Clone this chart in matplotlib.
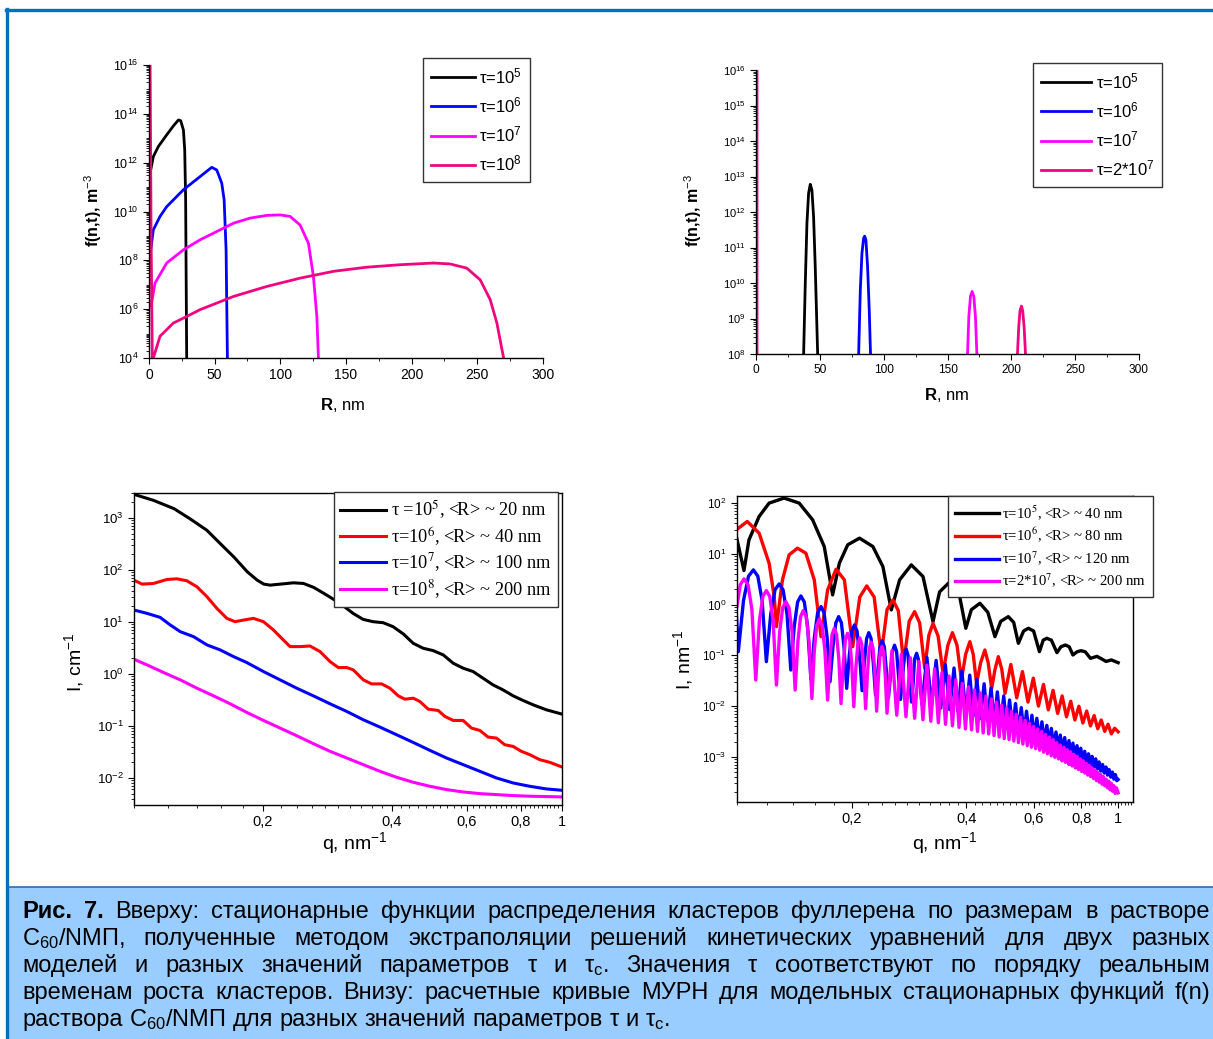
import numpy as np
import matplotlib
matplotlib.use("Agg")
import matplotlib.pyplot as plt
from matplotlib import ticker
from matplotlib.patches import Rectangle
from matplotlib.lines import Line2D

plt.rcParams['font.family'] = ['Liberation Sans', 'DejaVu Sans']
plt.rcParams['mathtext.fontset'] = 'custom'
plt.rcParams['mathtext.rm'] = 'Liberation Sans'
plt.rcParams['mathtext.it'] = 'Liberation Sans:italic'
plt.rcParams['mathtext.bf'] = 'Liberation Sans:bold'
plt.rcParams['axes.linewidth'] = 1.0

# ---------------- data ----------------
# top left: f(n,t) vs R, values as log10 f
tl_labels = [r'τ=10$^5$', r'τ=10$^6$', r'τ=10$^7$', r'τ=10$^8$']
tl_colors = ['#000000', '#0000FF', '#FF00FF', '#F0047F']
tl_r_1 = [1.3, 3.3, 7.1, 13.5, 18.5, 22.4, 24.1, 26.2, 27.2, 27.9, 28.7, 29.2]
tl_lf_1 = [11.70, 12.25, 12.66, 13.14, 13.50, 13.75, 13.72, 13.34, 12.52, 10.48, 4.0, 3.0]
tl_r_2 = [1.3, 3.3, 8.4, 13.5, 26.2, 38.9, 47.8, 51.6, 55.4, 57.2, 58.7, 59.7, 60.2]
tl_lf_2 = [8.43, 9.25, 9.80, 10.20, 10.89, 11.43, 11.81, 11.70, 11.16, 10.48, 8.43, 4.0, 3.0]
tl_r_3 = [1.5, 4.6, 13.5, 26.2, 38.9, 51.6, 64.3, 77.0, 89.7, 99.8, 107.4, 115.0,
          121.4, 125.2, 127.8, 129.0, 129.5]
tl_lf_3 = [6.11, 7.07, 7.89, 8.43, 8.84, 9.18, 9.52, 9.73, 9.84, 9.86, 9.80, 9.45,
           8.70, 7.34, 5.70, 4.0, 3.0]
tl_r_4 = [0.8, 1.6, 2.6, 3.3, 8.4, 18.5, 28.7, 38.9, 51.6, 64.3, 89.7, 115.0, 140.5,
          165.9, 191.3, 216.7, 229.4, 242.0, 252.2, 259.8, 264.9, 270.0, 270.6]
tl_lf_4 = [16.5, 9.0, 3.5, 4.0, 4.89, 5.43, 5.70, 5.98, 6.25, 6.52, 6.93, 7.27, 7.55,
           7.72, 7.82, 7.89, 7.85, 7.68, 7.20, 6.39, 5.43, 4.0, 3.0]

# top right: f(n,t) vs R, values as log10 f
tr_labels = [r'τ=10$^5$', r'τ=10$^6$', r'τ=10$^7$', r'τ=2*10$^7$']
tr_colors = ['#000000', '#0000FF', '#FF00FF', '#F0047F']
tr_r_1 = [37.3, 38.6, 39.9, 41.2, 42.5, 43.8, 45.1, 46.4, 48.3]
tr_lf_1 = [8.0, 9.99, 11.68, 12.53, 12.78, 12.62, 11.87, 10.46, 8.0]
tr_r_2 = [80.4, 81.7, 83.0, 84.3, 85.1, 86.1, 87.4, 88.7, 89.7]
tr_lf_2 = [8.0, 9.80, 10.84, 11.26, 11.32, 11.21, 10.46, 9.24, 8.0]
tr_r_3 = [165.7, 166.7, 168.0, 169.3, 170.6, 171.9, 173.0]
tr_lf_3 = [8.0, 9.05, 9.62, 9.76, 9.62, 9.05, 8.0]
tr_r_4 = [0.8, 0.8, np.nan, 204.8, 205.8, 206.8, 207.9, 208.9, 210.0, 211.1]
tr_lf_4 = [7.5, 16.5, np.nan, 8.0, 8.77, 9.22, 9.35, 9.22, 8.77, 8.0]

# bottom left: I vs q, values as log10 I
bl_labels = [r'τ =10$^5$, <R> ~ 20 nm', r'τ=10$^6$, <R> ~ 40 nm',
             r'τ=10$^7$, <R> ~ 100 nm', r'τ=10$^8$, <R> ~ 200 nm']
bl_colors = ['#000000', '#FF0000', '#0000FF', '#FF00FF']
bl_q_1 = [0.100, 0.111, 0.124, 0.135, 0.148, 0.159, 0.171, 0.184, 0.194, 0.201, 0.208,
          0.220, 0.236, 0.249, 0.263, 0.282, 0.303, 0.325, 0.343, 0.362, 0.382, 0.403,
          0.426, 0.449, 0.474, 0.500, 0.528, 0.557, 0.588, 0.620, 0.654, 0.690, 0.728,
          0.769, 0.811, 0.856, 0.919, 1.0]
bl_li_1 = [3.454, 3.339, 3.179, 2.987, 2.763, 2.508, 2.252, 1.964, 1.804, 1.728, 1.708,
           1.728, 1.753, 1.740, 1.664, 1.517, 1.357, 1.165, 1.050, 1.005, 0.986, 0.909,
           0.769, 0.590, 0.494, 0.449, 0.366, 0.206, 0.110, 0.046, -0.082, -0.210, -0.306,
           -0.421, -0.510, -0.593, -0.689, -0.772]
bl_q_2 = [0.100, 0.1044, 0.111, 0.1194, 0.126, 0.1329, 0.1403, 0.1481, 0.1562, 0.1648,
          0.1723, 0.1803, 0.1902, 0.2007, 0.2118, 0.2234, 0.2316, 0.2443, 0.2577, 0.2721,
          0.2871, 0.3002, 0.3141, 0.3254, 0.3434, 0.359, 0.3789, 0.3963, 0.4144, 0.4295,
          0.4492, 0.4656, 0.4868, 0.5137, 0.5325, 0.5567, 0.5875, 0.6144, 0.6427, 0.6721,
          0.7029, 0.7349, 0.7686, 0.8037, 0.8407, 0.8869, 0.9359, 1.0]
bl_li_2 = [1.804, 1.728, 1.740, 1.817, 1.830, 1.792, 1.676, 1.485, 1.261, 1.069,
           1.005, 1.037, 1.069, 1.005, 0.845, 0.653, 0.526, 0.526, 0.538, 0.430,
           0.238, 0.123, 0.123, 0.078, -0.114, -0.191, -0.191, -0.274, -0.421, -0.485,
           -0.466, -0.530, -0.677, -0.702, -0.817, -0.894, -0.894, -1.041, -1.086, -1.214,
           -1.233, -1.361, -1.393, -1.488, -1.552, -1.648, -1.699, -1.789]
bl_q_3 = [0.100, 0.1073, 0.1151, 0.1216, 0.1283, 0.1378, 0.1481, 0.1590, 0.1708, 0.1835,
          0.2007, 0.2195, 0.2400, 0.2625, 0.2871, 0.3141, 0.3434, 0.3755, 0.4107, 0.4492,
          0.4912, 0.5372, 0.5875, 0.6427, 0.7029, 0.7686, 0.8407, 0.9192, 1.0]
bl_li_3 = [1.229, 1.165, 1.088, 0.941, 0.813, 0.717, 0.558, 0.462, 0.334, 0.219,
           0.046, -0.114, -0.274, -0.421, -0.574, -0.721, -0.881, -1.022, -1.169, -1.317,
           -1.469, -1.616, -1.744, -1.872, -2.000, -2.096, -2.160, -2.211, -2.237]
bl_q_4 = [0.100, 0.1073, 0.1173, 0.1283, 0.1403, 0.1534, 0.1678, 0.1835, 0.2007, 0.2195,
          0.2400, 0.2625, 0.2871, 0.3141, 0.3434, 0.3755, 0.4107, 0.4492, 0.4912, 0.5372,
          0.5875, 0.6427, 0.7029, 0.7686, 0.8407, 1.0]
bl_li_4 = [0.283, 0.174, 0.027, -0.114, -0.274, -0.421, -0.574, -0.740, -0.894, -1.041,
           -1.188, -1.341, -1.488, -1.616, -1.744, -1.872, -1.987, -2.083, -2.160, -2.224,
           -2.269, -2.301, -2.320, -2.339, -2.351, -2.364]

# bottom right: I vs q, values as log10 I
br_labels = [r'τ=10$^5$, <R> ~ 40 nm', r'τ=10$^6$, <R> ~ 80 nm',
             r'τ=10$^7$, <R> ~ 120 nm', r'τ=2*10$^7$, <R> ~ 200 nm']
br_colors = ['#000000', '#FF0000', '#0000FF', '#FF00FF']
br_q_1 = [0.0996, 0.1043, 0.1075, 0.1143, 0.1214, 0.1329, 0.1456, 0.1579, 0.1694, 0.1782,
          0.1856, 0.1952, 0.2096, 0.2272, 0.2414, 0.254, 0.2671, 0.2866, 0.3076, 0.3268,
          0.340, 0.362, 0.383, 0.3985, 0.412, 0.4339, 0.455, 0.4751, 0.492, 0.515, 0.532,
          0.5473, 0.565, 0.5815, 0.600, 0.6217, 0.636, 0.650, 0.668, 0.691, 0.708, 0.727,
          0.744, 0.761, 0.780, 0.799, 0.820, 0.846, 0.880, 0.930, 0.960, 1.0]
br_li_1 = [1.342, 0.671, 1.276, 1.737, 2.000, 2.099, 2.000, 1.671, 1.145, 0.191,
           0.816, 1.178, 1.309, 1.145, 0.750, -0.105, 0.487, 0.783, 0.553, -0.336,
           0.250, 0.450, 0.200, -0.467, -0.100, 0.026, -0.150, -0.632, -0.330, -0.237, -0.350,
           -0.763, -0.520, -0.467, -0.520, -0.928, -0.700, -0.664, -0.700, -0.947, -0.830, -0.796,
           -0.830, -0.993, -0.930, -0.908, -0.930, -1.059, -1.020, -1.120, -1.090, -1.145]
br_q_2 = [0.0996, 0.1064, 0.1143, 0.1214, 0.1252, 0.1269, 0.1316, 0.137, 0.1441, 0.1516,
          0.1595, 0.1661, 0.1729, 0.1819, 0.1913, 0.2012, 0.210, 0.219, 0.229, 0.239,
          0.2475, 0.2565, 0.265, 0.2736, 0.283, 0.2924, 0.3015, 0.3108, 0.3188, 0.3268,
          0.337, 0.3472, 0.3575, 0.3675, 0.3778, 0.388, 0.398, 0.4083, 0.4167, 0.4251,
          0.436, 0.447, 0.456, 0.4657, 0.4755, 0.4849, 0.495, 0.505,
          0.523, 0.542, 0.561, 0.580, 0.599, 0.618, 0.637, 0.656, 0.675, 0.694, 0.713,
          0.732, 0.751, 0.770, 0.789, 0.808, 0.827, 0.846, 0.865, 0.884, 0.903, 0.922,
          0.941, 0.960, 0.979, 1.0]
br_li_2 = [1.474, 1.638, 1.408, 0.816, 0.158, -0.434, 0.487, 0.980, 1.112, 1.013,
           0.487, -0.632, 0.290, 0.697, 0.487, -0.829, 0.150, 0.368, 0.150, -0.993,
           -0.100, 0.092, -0.120, -1.158, -0.330, -0.138, -0.360, -1.257, -0.600, -0.368,
           -0.620, -1.355, -0.800, -0.553, -0.800, -1.487, -0.980, -0.730, -0.980, -1.553,
           -1.140, -0.895, -1.140, -1.651, -1.270, -1.026, -1.270, -1.750,
           -1.178, -1.838, -1.319, -1.922, -1.450, -2.001, -1.573, -2.075, -1.690, -2.145, -1.800,
           -2.211, -1.904, -2.274, -2.003, -2.334, -2.097, -2.391, -2.187, -2.446, -2.274, -2.498,
           -2.357, -2.548, -2.436, -2.507]

# tau=1e7 curve: ends, peaks, troughs and arc shoulders
br_q_3_ends = [0.0996, 1.0]
br_li_3_ends = [-0.17, -3.447]
br_q_3_peaks = [0.1104, 0.129, 0.1471, 0.1661, 0.1848, 0.2033, 0.2217, 0.2404,
                0.259, 0.278, 0.296, 0.315, 0.333, 0.352, 0.371, 0.389, 0.408, 0.426,
                0.445, 0.464, 0.482, 0.501, 0.519, 0.538, 0.557, 0.575, 0.594, 0.612,
                0.631, 0.650, 0.668, 0.687, 0.705, 0.724, 0.743, 0.761, 0.780, 0.798,
                0.817, 0.836, 0.854, 0.873, 0.891, 0.910, 0.929, 0.947, 0.966, 0.984]
br_li_3_peaks = [0.684, 0.408, 0.171, -0.039, -0.237, -0.401, -0.553, -0.711,
                 -0.80, -0.88, -0.96, -1.04, -1.10, -1.18, -1.25, -1.31, -1.39, -1.47,
                 -1.56, -1.64, -1.72, -1.80, -1.88, -1.95, -2.03, -2.10, -2.18, -2.24,
                 -2.31, -2.38, -2.44, -2.51, -2.57, -2.62, -2.68, -2.73, -2.78, -2.83,
                 -2.89, -2.94, -2.99, -3.04, -3.10, -3.15, -3.20, -3.25, -3.30, -3.35]
br_q_3_troughs = [0.1008, 0.1194, 0.1384, 0.1563, 0.1754, 0.194, 0.2129, 0.2309,
                  0.2497, 0.2685, 0.287, 0.3055, 0.324, 0.3425, 0.3615, 0.380, 0.3985,
                  0.417, 0.4355, 0.4545, 0.473, 0.4915, 0.510, 0.5285, 0.5475, 0.566,
                  0.5845, 0.603, 0.6215, 0.6405, 0.659, 0.6775, 0.696, 0.7145, 0.7335,
                  0.752, 0.7705, 0.789, 0.8075, 0.8265, 0.845, 0.8635, 0.882, 0.9005,
                  0.9195, 0.938, 0.9565, 0.975, 0.992]
br_li_3_troughs = [-0.928, -1.125, -1.289, -1.474, -1.520, -1.651, -1.697, -1.783,
                   -1.83, -1.87, -1.92, -1.96, -2.00, -2.04, -2.07, -2.11, -2.15,
                   -2.19, -2.24, -2.29, -2.33, -2.38, -2.42, -2.46, -2.51, -2.55,
                   -2.59, -2.63, -2.67, -2.71, -2.76, -2.80, -2.84, -2.88, -2.92,
                   -2.96, -3.01, -3.05, -3.09, -3.13, -3.17, -3.20, -3.24, -3.28,
                   -3.32, -3.36, -3.40, -3.44, -3.47]
br_q_3_sides = [0.1040, 0.1072, 0.1134, 0.1164, 0.1226, 0.1258, 0.1321, 0.1353,
                0.1413, 0.1442, 0.1502, 0.1532, 0.1596, 0.1628, 0.1692, 0.1723,
                0.1785, 0.1817, 0.1879, 0.1909, 0.1971, 0.2002, 0.2065, 0.2097,
                0.2158, 0.2188, 0.2248, 0.2278, 0.2341, 0.2372, 0.2435, 0.2466,
                0.2528, 0.2559, 0.2622, 0.2653, 0.2717, 0.2748, 0.2810, 0.2840,
                0.2898, 0.2922, 0.2992, 0.3023]
br_li_3_sides = [0.08, 0.56, 0.56, 0.08, -0.19, 0.29, 0.29, -0.19,
                 -0.43, 0.05, 0.05, -0.43, -0.64, -0.16, -0.16, -0.64,
                 -0.84, -0.36, -0.36, -0.84, -1.00, -0.52, -0.52, -1.00,
                 -1.15, -0.67, -0.67, -1.15, -1.31, -0.83, -0.83, -1.31,
                 -1.40, -0.92, -0.92, -1.40, -1.48, -1.00, -1.00, -1.48,
                 -1.56, -1.08, -1.08, -1.56]

# tau=2e7 curve: ends, peaks, troughs and arc shoulders
br_q_4_ends = [0.0996, 1.0]
br_li_4_ends = [-0.105, -3.71]
br_q_4_peaks = [0.1043, 0.1194, 0.1343, 0.1492, 0.1643, 0.180,
                0.195, 0.210, 0.225, 0.240, 0.255, 0.270, 0.285, 0.300, 0.315, 0.330,
                0.345, 0.360, 0.375, 0.390, 0.405, 0.420, 0.435, 0.450, 0.465, 0.480,
                0.495, 0.510, 0.525, 0.540, 0.555, 0.570, 0.585, 0.600, 0.615, 0.630,
                0.645, 0.660, 0.675, 0.690, 0.705, 0.720, 0.735, 0.750, 0.765, 0.780,
                0.795, 0.810, 0.825, 0.840, 0.855, 0.870, 0.885, 0.900, 0.915, 0.930,
                0.945, 0.960, 0.975, 0.990]
br_li_4_peaks = [0.507, 0.276, 0.059, -0.118, -0.289, -0.467,
                 -0.567, -0.656, -0.74, -0.824, -0.904, -0.976, -1.048, -1.12, -1.192, -1.264,
                 -1.336, -1.408, -1.48, -1.552, -1.62, -1.68, -1.74, -1.80, -1.86, -1.92,
                 -1.98, -2.04, -2.10, -2.16, -2.22, -2.28, -2.34, -2.40, -2.45, -2.50,
                 -2.56, -2.61, -2.66, -2.72, -2.77, -2.81, -2.86, -2.90, -2.95, -2.99,
                 -3.04, -3.08, -3.13, -3.17, -3.22, -3.26, -3.31, -3.35, -3.39, -3.44,
                 -3.48, -3.52, -3.57, -3.61]
br_q_4_troughs = [0.112, 0.1269, 0.1421, 0.1572, 0.1729,
                  0.1875, 0.2025, 0.2175, 0.2325, 0.2475, 0.2625, 0.2775, 0.2925, 0.3075,
                  0.3225, 0.3375, 0.3525, 0.3675, 0.3825, 0.3975, 0.4125, 0.4275, 0.4425,
                  0.4575, 0.4725, 0.4875, 0.5025, 0.5175, 0.5325, 0.5475, 0.5625, 0.5775,
                  0.5925, 0.6075, 0.6225, 0.6375, 0.6525, 0.6675, 0.6825, 0.6975, 0.7125,
                  0.7275, 0.7425, 0.7575, 0.7725, 0.7875, 0.8025, 0.8175, 0.8325, 0.8475,
                  0.8625, 0.8775, 0.8925, 0.9075, 0.9225, 0.9375, 0.9525, 0.9675, 0.9825]
br_li_4_troughs = [-1.487, -1.586, -1.684, -1.849, -1.882,
                   -1.95, -2.01, -2.05, -2.10, -2.14, -2.18, -2.21, -2.24, -2.27, -2.30,
                   -2.33, -2.36, -2.39, -2.42, -2.45, -2.47, -2.50, -2.53, -2.55, -2.58,
                   -2.61, -2.64, -2.66, -2.69, -2.72, -2.75, -2.78, -2.81, -2.84, -2.87,
                   -2.91, -2.94, -2.98, -3.01, -3.04, -3.08, -3.11, -3.15, -3.18, -3.22,
                   -3.25, -3.29, -3.32, -3.36, -3.39, -3.43, -3.47, -3.50, -3.54, -3.57,
                   -3.61, -3.65, -3.68, -3.72]
br_q_4_sides = [0.1020, 0.1069, 0.1094, 0.1145, 0.1169, 0.1219, 0.1244,
                0.1294, 0.1318, 0.1369, 0.1395, 0.1445, 0.1468, 0.1519, 0.1545,
                0.1596, 0.1619, 0.1672, 0.1700, 0.1753, 0.1776, 0.1825, 0.1850,
                0.1900, 0.1925, 0.1975, 0.2000, 0.2050, 0.2075, 0.2125, 0.2150,
                0.2200, 0.2225, 0.2275, 0.2300, 0.2350, 0.2375, 0.2425, 0.2450]
br_li_4_sides = [0.39, 0.39, -0.09, -0.32, 0.16, 0.16, -0.32,
                 -0.54, -0.06, -0.06, -0.54, -0.72, -0.24, -0.24, -0.72,
                 -0.89, -0.41, -0.41, -0.89, -1.07, -0.59, -0.59, -1.07,
                 -1.17, -0.69, -0.69, -1.17, -1.26, -0.78, -0.78, -1.26,
                 -1.34, -0.86, -0.86, -1.34, -1.42, -0.94, -0.94, -1.42]

caption_lines = [
    [('Рис.', 'bold'), ('7.', 'bold')] + [(w, 'normal') for w in
        'Вверху: стационарные функции распределения кластеров фуллерена по размерам в растворе'.split()],
    [(w, 'normal') for w in
        'C$_{60}$/NМП, полученные методом экстраполяции решений кинетических уравнений для двух разных'.split()],
    [(w, 'normal') for w in
        r'моделей и разных значений параметров τ и τ$_{\mathrm{c}}$. Значения τ соответствуют по порядку реальным'.split()],
    [(w, 'normal') for w in
        'временам роста кластеров. Внизу: расчетные кривые МУРН для модельных стационарных функций f(n)'.split()],
    [(w, 'normal') for w in
        r'раствора C$_{60}$/NМП для разных значений параметров τ и τ$_{\mathrm{c}}$.'.split()],
]

# ---------------- figure ----------------
W, H = 1213, 1039
fig = plt.figure(figsize=(W / 100, H / 100), dpi=100)
fig.patch.set_facecolor('white')


def fx(px):
    return px / W


def fy(py):
    return 1 - py / H


def box(l, t, r, b):
    return [fx(l), fy(b), fx(r) - fx(l), fy(t) - fy(b)]


def merge(*pairs):
    q = np.concatenate([np.asarray(p[0], float) for p in pairs])
    v = np.concatenate([np.asarray(p[1], float) for p in pairs])
    o = np.argsort(q)
    return q[o], 10 ** v[o]


def pow10_fmt(v, pos):
    return r'$\mathdefault{10^{%d}}$' % int(round(np.log10(v)))


def comma_fmt(v, pos):
    return ('%g' % v).replace('.', ',')


def legend(ax, x, y, fs, family, hl, spacing, pad=0.5, math_stix=False):
    leg = ax.legend(loc='upper left', bbox_to_anchor=(fx(x), fy(y)),
                    bbox_transform=fig.transFigure, borderaxespad=0,
                    fancybox=False, framealpha=1, edgecolor='#333333',
                    prop={'family': family, 'size': fs}, handlelength=hl,
                    handletextpad=0.25, labelspacing=spacing, borderpad=pad)
    leg.get_frame().set_linewidth(1.0)
    if math_stix:
        for t in leg.get_texts():
            t.set_math_fontfamily('stix')
    return leg


# --- top left
ax1 = fig.add_axes(box(149, 65, 543, 358))
for r, lf, c, lab in zip([tl_r_1, tl_r_2, tl_r_3, tl_r_4], [tl_lf_1, tl_lf_2, tl_lf_3, tl_lf_4],
                         tl_colors, tl_labels):
    ax1.plot(r, 10 ** np.asarray(lf, float), color=c, lw=2.0, label=lab)
ax1.set_yscale('log')
ax1.set_xlim(0, 300)
ax1.set_ylim(1e4, 1e16)
ax1.yaxis.set_major_locator(ticker.FixedLocator([10.0 ** k for k in range(4, 17, 2)]))
ax1.yaxis.set_major_formatter(ticker.FuncFormatter(pow10_fmt))
ax1.yaxis.set_minor_locator(ticker.LogLocator(base=10, subs=np.arange(1, 10), numticks=200))
ax1.yaxis.set_minor_formatter(ticker.NullFormatter())
ax1.xaxis.set_major_locator(ticker.MultipleLocator(50))
ax1.xaxis.set_minor_locator(ticker.MultipleLocator(25))
ax1.tick_params(labelsize=10)
ax1.tick_params(axis='y', labelsize=9)
legend(ax1, 423, 58, 12, 'Liberation Sans', 2.6, 0.55)

# --- top right
ax2 = fig.add_axes(box(756, 70, 1139, 354))
for r, lf, c, lab in zip([tr_r_1, tr_r_2, tr_r_3, tr_r_4], [tr_lf_1, tr_lf_2, tr_lf_3, tr_lf_4],
                         tr_colors, tr_labels):
    ax2.plot(r, 10 ** np.asarray(lf, float), color=c, lw=2.0, label=lab)
ax2.set_yscale('log')
ax2.set_xlim(0, 300)
ax2.set_ylim(1e8, 1e16)
ax2.yaxis.set_major_locator(ticker.FixedLocator([10.0 ** k for k in range(8, 17)]))
ax2.yaxis.set_major_formatter(ticker.FuncFormatter(pow10_fmt))
ax2.yaxis.set_minor_locator(ticker.LogLocator(base=10, subs=np.arange(2, 10), numticks=200))
ax2.yaxis.set_minor_formatter(ticker.NullFormatter())
ax2.xaxis.set_major_locator(ticker.MultipleLocator(50))
ax2.xaxis.set_minor_locator(ticker.MultipleLocator(25))
ax2.tick_params(labelsize=8.6)
ax2.tick_params(axis='y', labelsize=8)
legend(ax2, 1033, 63, 12, 'Liberation Sans', 3.0, 0.55)

for ax in (ax1, ax2):
    ax.spines['top'].set_visible(False)
    ax.spines['right'].set_visible(False)
    ax.tick_params(which='major', direction='out', length=4, width=0.8)
    ax.tick_params(which='minor', direction='out', length=2.5, width=0.6)

# --- bottom left
ax3 = fig.add_axes(box(134, 493, 562, 805))
for q, li, c, lab in zip([bl_q_1, bl_q_2, bl_q_3, bl_q_4], [bl_li_1, bl_li_2, bl_li_3, bl_li_4],
                         bl_colors, bl_labels):
    ax3.plot(q, 10 ** np.asarray(li, float), color=c, lw=2.2, label=lab)
ax3.set_xlim(0.1, 1.0)
ax3.set_ylim(10 ** -2.52, 10 ** 3.48)
legend(ax3, 334, 492, 13.2, 'Liberation Serif', 2.5, 0.2, pad=0.35, math_stix=True)

# --- bottom right
ax4 = fig.add_axes(box(737, 496, 1133, 802))
curves4 = [(np.asarray(br_q_1), 10 ** np.asarray(br_li_1)),
           (np.asarray(br_q_2), 10 ** np.asarray(br_li_2)),
           merge((br_q_3_ends, br_li_3_ends), (br_q_3_peaks, br_li_3_peaks),
                 (br_q_3_troughs, br_li_3_troughs), (br_q_3_sides, br_li_3_sides)),
           merge((br_q_4_ends, br_li_4_ends), (br_q_4_peaks, br_li_4_peaks),
                 (br_q_4_troughs, br_li_4_troughs), (br_q_4_sides, br_li_4_sides))]
for (q, i), c, lab in zip(curves4, br_colors, br_labels):
    ax4.plot(q, i, color=c, lw=2.4, label=lab, solid_joinstyle='round')
ax4.set_xlim(0.1, 1.094)
ax4.set_ylim(10 ** -3.89, 10 ** 2.14)
legend(ax4, 948, 496, 10.6, 'Liberation Serif', 3.0, 0.3, pad=0.45, math_stix=True)

for ax, ylab_size in ((ax3, 9.5), (ax4, 8.5)):
    ax.set_xscale('log')
    ax.set_yscale('log')
    ax.xaxis.set_major_locator(ticker.FixedLocator([0.2, 0.4, 0.6, 0.8, 1.0]))
    ax.xaxis.set_major_formatter(ticker.FuncFormatter(comma_fmt))
    ax.xaxis.set_minor_locator(ticker.FixedLocator(np.arange(0.1, 1.1, 0.02)))
    ax.xaxis.set_minor_formatter(ticker.NullFormatter())
    ax.yaxis.set_major_locator(ticker.LogLocator(base=10, numticks=20))
    ax.yaxis.set_major_formatter(ticker.FuncFormatter(pow10_fmt))
    ax.yaxis.set_minor_locator(ticker.LogLocator(base=10, subs=np.arange(2, 10), numticks=200))
    ax.yaxis.set_minor_formatter(ticker.NullFormatter())
    ax.tick_params(which='major', direction='out', length=4, width=0.8)
    ax.tick_params(which='minor', direction='out', length=2.5, width=0.6)
    ax.tick_params(axis='x', labelsize=10.5)
    ax.tick_params(axis='y', labelsize=ylab_size)

# --- axis labels
fig.text(fx(93), fy(210), 'f(n,t), m$^{-3}$', rotation=90, ha='center', va='center',
         fontsize=11.5, fontweight='bold')
fig.text(fx(343), fy(405), r'$\mathbf{R}$, nm', ha='center', va='center', fontsize=12)
fig.text(fx(693), fy(210), 'f(n,t), m$^{-3}$', rotation=90, ha='center', va='center',
         fontsize=11.5, fontweight='bold')
fig.text(fx(947), fy(395), r'$\mathbf{R}$, nm', ha='center', va='center', fontsize=12)
fig.text(fx(74), fy(662), 'I, cm$^{-1}$', rotation=90, ha='center', va='center', fontsize=14)
fig.text(fx(355), fy(843), 'q, nm$^{-1}$', ha='center', va='center', fontsize=14)
fig.text(fx(683), fy(660), 'I, nm$^{-1}$', rotation=90, ha='center', va='center', fontsize=14)
fig.text(fx(945), fy(843), 'q, nm$^{-1}$', ha='center', va='center', fontsize=14)

# --- frame and caption panel
fig.add_artist(Rectangle((fx(8), 0), 1 - fx(8), fy(887), transform=fig.transFigure,
                         facecolor='#99CCFF', edgecolor='none', zorder=0))
fig.add_artist(Line2D([fx(8), 1], [fy(887), fy(887)], color='#2E6DB0', lw=1.2))
fig.add_artist(Line2D([fx(7), fx(7)], [fy(9), 0], color='#0070C0', lw=2.4))
fig.add_artist(Line2D([fx(6), 1], [fy(10), fy(10)], color='#0070C0', lw=2.4))

fig.canvas.draw()
renderer = fig.canvas.get_renderer()


def place_line(parts, base_y, fs, justify, x0=22, x1=1210):
    arts = [fig.text(0, fy(base_y), s, fontsize=fs, fontweight=w, va='baseline', ha='left')
            for s, w in parts]
    widths = [a.get_window_extent(renderer).width for a in arts]
    gap = fs * 100 / 72 * 0.28
    if justify and len(arts) > 1:
        gap = (x1 - x0 - sum(widths)) / (len(arts) - 1)
    x = x0
    for a, wd in zip(arts, widths):
        a.set_x(fx(x))
        x += wd + gap
    return arts, sum(widths) + gap * (len(arts) - 1)


# scale the caption font so that the last (left aligned) line has its width in the picture
probe, wlast = place_line(caption_lines[4], 2000, 12, False)
for a in probe:
    a.remove()
cap_fs = 12 * 650 / wlast
for k, parts in enumerate(caption_lines):
    place_line(parts, 918 + 27 * k, cap_fs, k < 4)

fig.savefig('out.png', dpi=100)
